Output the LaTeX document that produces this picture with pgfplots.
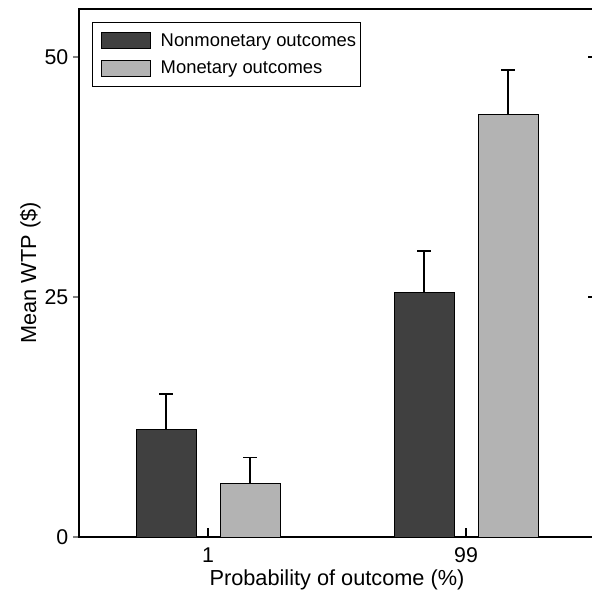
\documentclass[border=0pt]{standalone}
\usepackage{fontspec}
\setmainfont{Liberation Sans}
\usepackage{pgfplots}
\pgfplotsset{compat=1.18}
\definecolor{dark}{HTML}{404040}
\definecolor{light}{HTML}{B3B3B3}
\begin{document}
\begin{tikzpicture}
\begin{axis}[
  at={(0,0)}, anchor=south west,
  scale only axis, width=387pt, height=396pt,
  xmin=-0.5, xmax=1.5, ymin=0, ymax=55,
  ybar=18pt, bar width=45pt,
  axis line style={line width=1pt},
  xtick={0,1}, xticklabels={1,99}, xtick style={draw=none},
  ytick={0,25,50}, ytick pos=left, tick align=outside,
  major tick length=4.5pt, ytick style={line width=1pt},
  /pgf/number format/assume math mode=true,
  ticklabel style={font=\fontsize{16}{19}\selectfont},
  label style={font=\fontsize{16.3}{19}\selectfont},
  xlabel={Probability of outcome (\%)},
  ylabel={Mean WTP (\$)},
  xlabel style={yshift=2pt},
  ylabel style={yshift=-4pt},
  legend style={at={(0.025,0.975)}, anchor=north west, draw=black, line width=0.75pt,
    font=\fontsize{13.8}{16}\selectfont, row sep=5.5pt, inner xsep=1pt, inner ysep=6pt},
  legend cell align=left,
  legend image code/.code={\draw[#1, line width=0.75pt] (0pt,-6pt) rectangle (36.75pt,6pt);
    \path (-5.5pt,0pt) (42pt,0pt);},
  error bars/y dir=plus, error bars/y explicit,
  error bars/error bar style={line width=0.9pt, black},
  error bars/error mark options={rotate=90, mark size=5.25pt, line width=0.9pt, black},
]
\addplot[fill=dark, draw=black, line width=0.75pt] coordinates {(0,11.2) +- (0,3.7) (1,25.5) +- (0,4.3)};
\addplot[fill=light, draw=black, line width=0.75pt] coordinates {(0,5.6) +- (0,2.65) (1,44.05) +- (0,4.6)};
\legend{Nonmonetary outcomes, Monetary outcomes}
\coordinate (xa) at (axis cs:0,0);
\coordinate (xb) at (axis cs:1,0);
\coordinate (ra) at (axis cs:1.5,25);
\coordinate (rb) at (axis cs:1.5,50);
\end{axis}
\draw[line width=1pt] (xa) -- ([yshift=6.75pt]xa);
\draw[line width=1pt] (xb) -- ([yshift=6.75pt]xb);
\draw[line width=1pt] (ra) -- ([xshift=-5.25pt]ra);
\draw[line width=1pt] (rb) -- ([xshift=-5.25pt]rb);
\pgfresetboundingbox
\useasboundingbox (-59.25pt,-41.25pt) rectangle (384.75pt,402.75pt);
\end{tikzpicture}
\end{document}
